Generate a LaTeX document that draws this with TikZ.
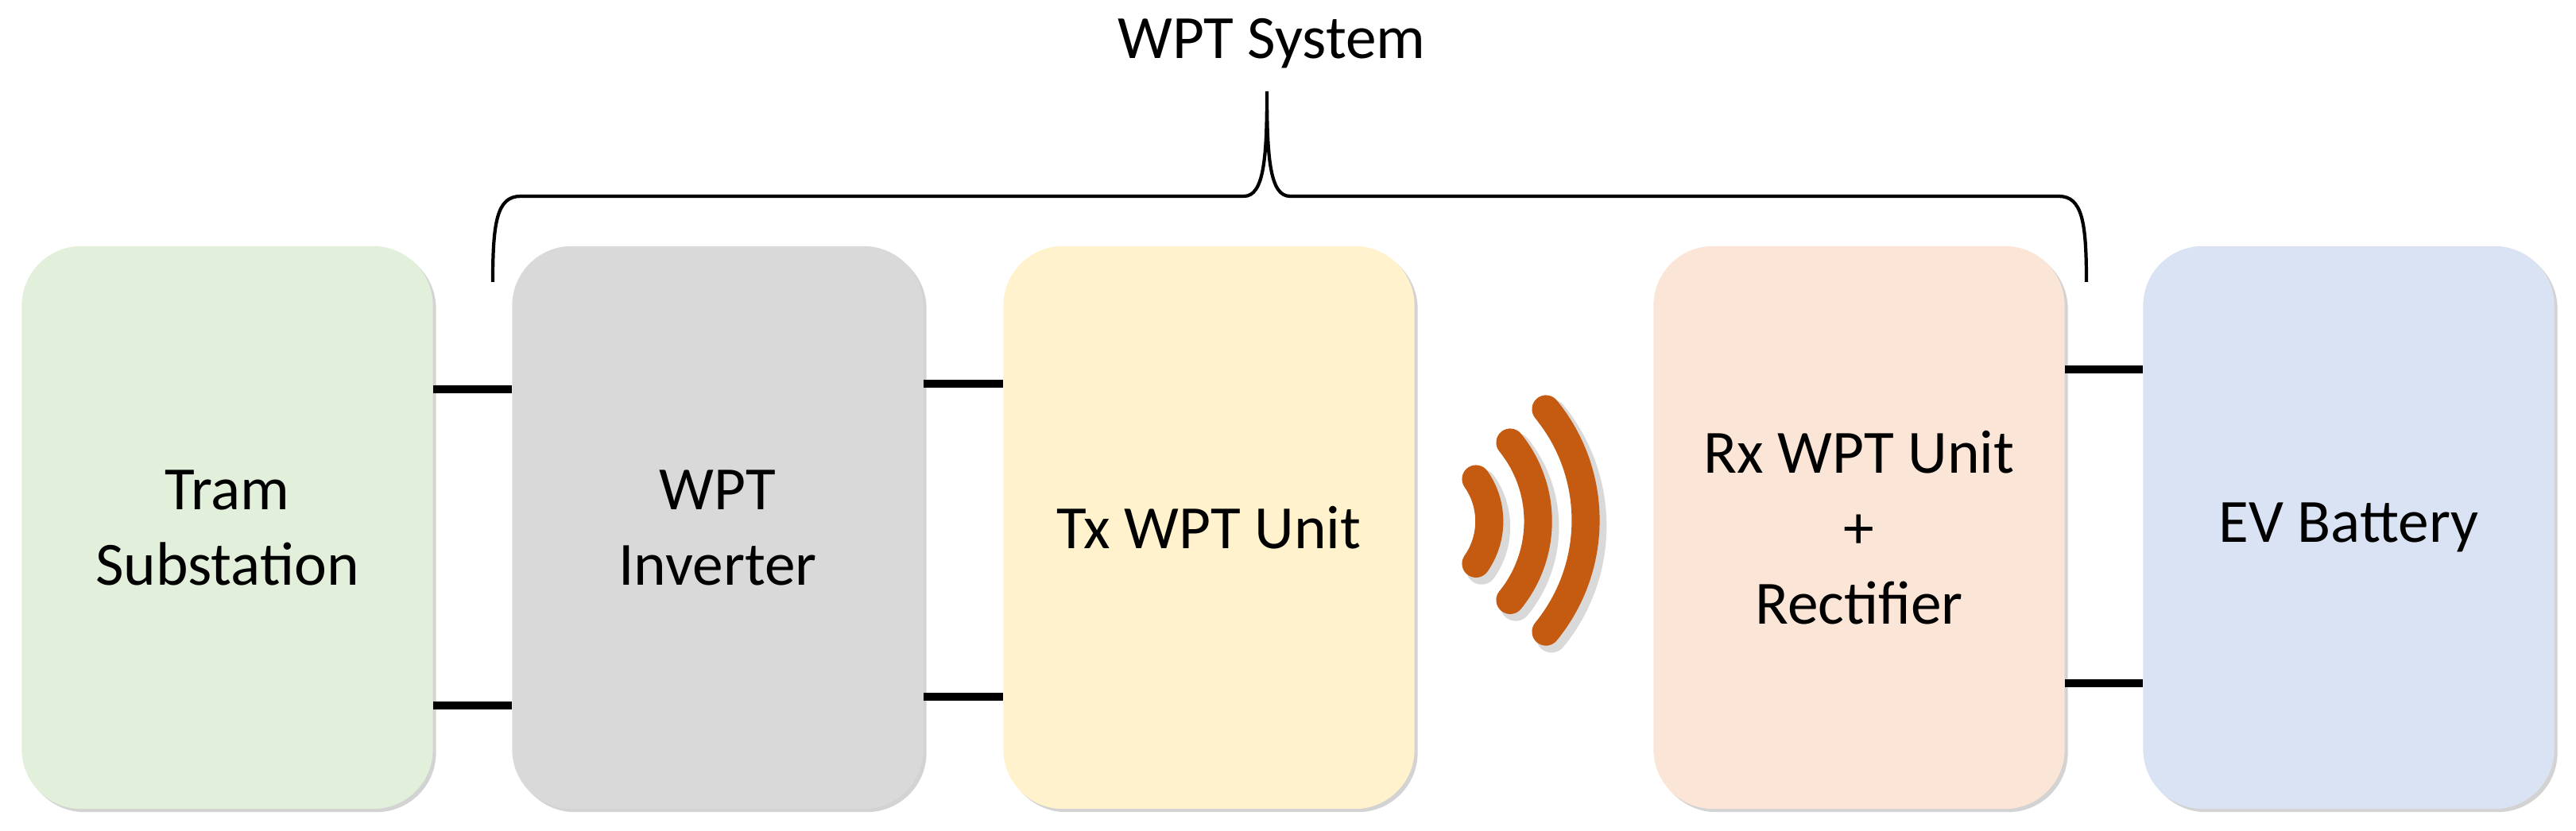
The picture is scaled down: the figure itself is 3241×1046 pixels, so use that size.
\documentclass[tikz,border=0pt]{standalone}
\usepackage{fontspec}
\setmainfont{Carlito}
\usetikzlibrary{shadows}
\definecolor{cg}{HTML}{E2EFDA}
\definecolor{cgr}{HTML}{D9D9D9}
\definecolor{cy}{HTML}{FFF2CC}
\definecolor{cp}{HTML}{FBE5D6}
\definecolor{cb}{HTML}{DAE3F3}
\definecolor{wave}{HTML}{C55A11}
\begin{document}
\begin{tikzpicture}[x=0.01cm,y=-0.01cm,
  blk/.style={rounded corners=0.75cm,minimum width=5.17cm,minimum height=7.08cm,
    draw=none,align=center,font=\fontsize{22}{27}\selectfont,inner sep=0pt,
    drop shadow={shadow xshift=0.04cm,shadow yshift=-0.04cm,opacity=0.35}},
  wire/.style={line width=2.8pt},
  wv/.style={draw=wave,line width=10pt,line cap=round},
  wvs/.style={draw=black!25,line width=11pt,line cap=round,opacity=0.6}]
\useasboundingbox (0,0) rectangle (3241,1046);
\node[blk,fill=cg]  (ts) at (286,664) {Tram\\Substation};
\node[blk,fill=cgr] (inv) at (903,664) {WPT\\Inverter};
\node[blk,fill=cy]  (tx) at (1521,664) {Tx WPT Unit};
\node[blk,fill=cp]  (rx) at (2339,664) {Rx WPT Unit\\+\\Rectifier};
\node[blk,fill=cb]  (ev) at (2955,664) {EV Battery};
\draw[wire] (ts.east |- 0,490) -- (inv.west |- 0,490);
\draw[wire] (ts.east |- 0,888) -- (inv.west |- 0,888);
\draw[wire] (inv.east |- 0,483) -- (tx.west |- 0,483);
\draw[wire] (inv.east |- 0,877) -- (tx.west |- 0,877);
\draw[wire] (rx.east |- 0,465) -- (ev.west |- 0,465);
\draw[wire] (rx.east |- 0,860) -- (ev.west |- 0,860);
\coordinate (bl) at (620,355);
\coordinate (br) at (2625,355);
\coordinate (bt) at (1594,115);
\draw[line width=1.2pt] (bl) .. controls (620,280) and (625,247) .. (655,247) -- (1565,247)
  .. controls (1590,247) and (1594,200) .. (bt)
  .. controls (1594,200) and (1598,247) .. (1623,247) -- (2590,247)
  .. controls (2620,247) and (2625,280) .. (br);
\node[font=\fontsize{22}{27}\selectfont] (lab) at (1600,55) {WPT System};
\coordinate (a1) at (1857,603);
\coordinate (b1) at (1900,557);
\coordinate (c1) at (1945,515);
\coordinate (a1s) at (1864,610);
\coordinate (b1s) at (1907,564);
\coordinate (c1s) at (1952,522);
\path[wvs] (a1s) arc[start angle=35,end angle=-35,radius=0.927cm];
\path[wvs] (b1s) arc[start angle=39,end angle=-39,radius=1.575cm];
\path[wvs] (c1s) arc[start angle=39.3,end angle=-39.3,radius=2.21cm];
\path[wv] (a1) arc[start angle=35,end angle=-35,radius=0.927cm];
\path[wv] (b1) arc[start angle=39,end angle=-39,radius=1.575cm];
\path[wv] (c1) arc[start angle=39.3,end angle=-39.3,radius=2.21cm];
\end{tikzpicture}
\end{document}
